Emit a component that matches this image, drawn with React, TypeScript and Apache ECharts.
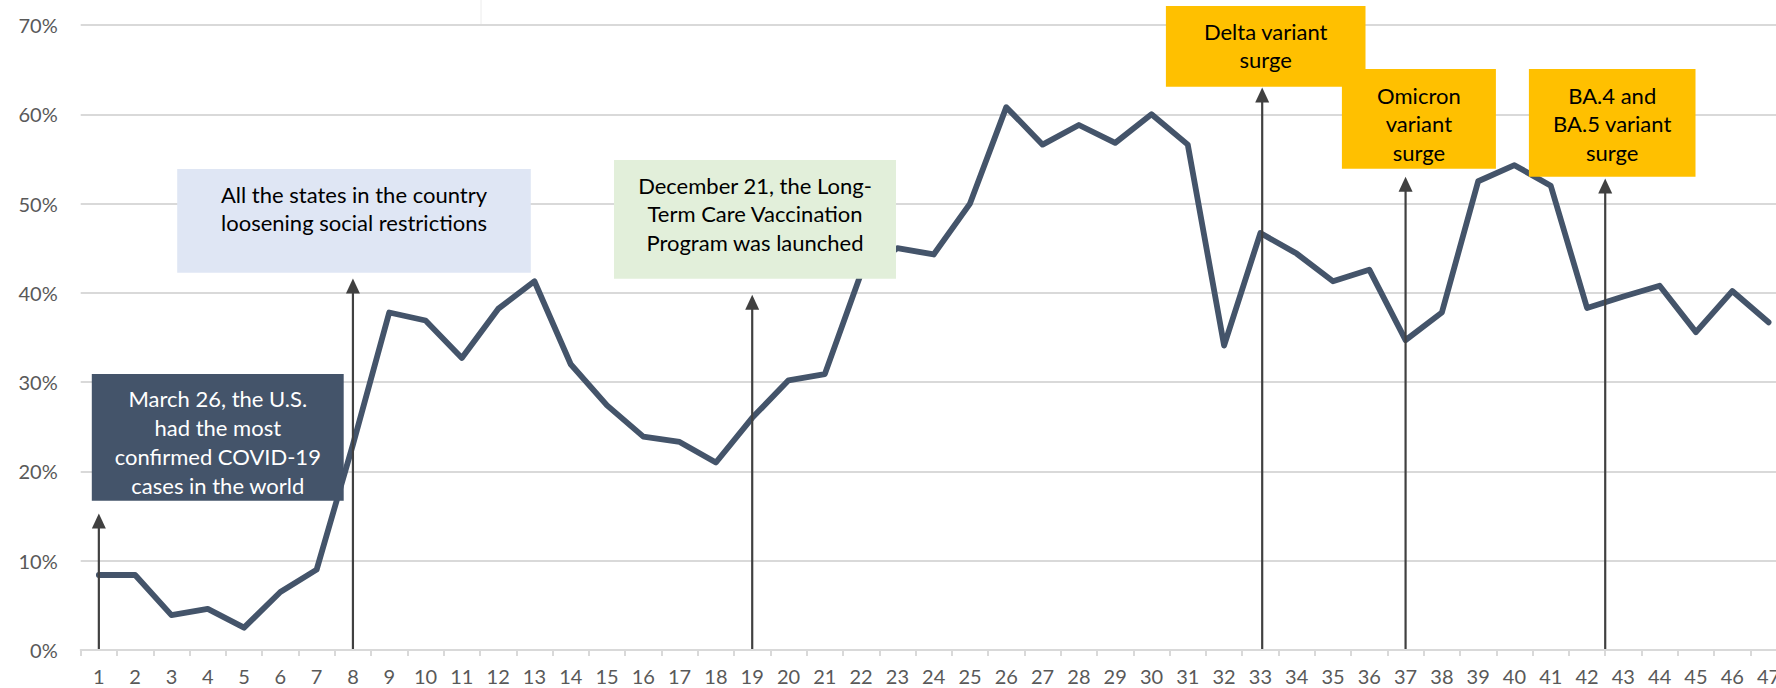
import React, { useEffect, useRef } from "react";
import * as echarts from "echarts";

const categories = [
  "1", "2", "3", "4", "5", "6", "7", "8", "9", "10",
  "11", "12", "13", "14", "15", "16", "17", "18", "19", "20",
  "21", "22", "23", "24", "25", "26", "27", "28", "29", "30",
  "31", "32", "33", "34", "35", "36", "37", "38", "39", "40",
  "41", "42", "43", "44", "45", "46", "47",
];

const shareValues = [
  8.4, 8.4, 3.9, 4.6, 2.5, 6.5, 9.0, 23.0, 37.8, 36.9,
  32.7, 38.2, 41.3, 32.0, 27.4, 23.9, 23.3, 21.0, 26.0, 30.2,
  30.9, 42.2, 45.0, 44.3, 50.0, 60.8, 56.6, 58.8, 56.8, 60.0,
  56.6, 34.1, 46.7, 44.4, 41.3, 42.6, 34.7, 37.8, 52.5, 54.3,
  52.0, 38.3, 39.6, 40.8, 35.6, 40.2, 36.7,
];

const yTicks = [0, 10, 20, 30, 40, 50, 60, 70];

// annotation arrows: position on the category scale and height of the tip (%)
const arrowX = [1, 8, 19, 33.05, 37, 42.5];
const arrowTop = [15.3, 41.6, 39.8, 63.0, 53.0, 52.8];

const FONT = "Lato";

export default function App() {
  const ref = useRef<HTMLDivElement>(null);

  useEffect(() => {
    if (!ref.current) return;
    const chart = echarts.init(ref.current, undefined, { renderer: "svg" });

    const box = (
      x: number, y: number, w: number, h: number, fill: string,
      text: string, cx: number, cy: number, lh: number, color: string
    ) => [
      { type: "rect", shape: { x, y, width: w, height: h }, style: { fill }, z: 100 },
      {
        type: "text",
        x: cx,
        y: cy,
        z: 101,
        style: {
          text,
          fill: color,
          fontFamily: FONT,
          fontSize: 22,
          lineHeight: lh,
          align: "center",
          verticalAlign: "middle",
        },
      },
    ];

    const option: any = {
      animation: false,
      backgroundColor: "#ffffff",
      grid: { left: 80.7, top: 25, width: 1706, height: 625, containLabel: false },
      xAxis: [
        {
          type: "category",
          data: categories,
          boundaryGap: true,
          axisLine: { show: true, lineStyle: { color: "#d9d9d9", width: 2 } },
          axisTick: { show: true, length: 6, lineStyle: { color: "#d9d9d9", width: 2 } },
          axisLabel: {
            interval: 0,
            margin: 16,
            color: "#595959",
            fontFamily: FONT,
            fontSize: 20,
          },
          splitLine: { show: false },
        },
        {
          type: "value",
          min: 0.5,
          max: 47.5,
          show: false,
        },
      ],
      yAxis: {
        type: "value",
        min: yTicks[0],
        max: yTicks[yTicks.length - 1],
        interval: 10,
        axisLine: { show: false },
        axisTick: { show: false },
        axisLabel: {
          formatter: "{value}%",
          margin: 23,
          color: "#595959",
          fontFamily: FONT,
          fontSize: 20,
        },
        splitLine: { show: true, lineStyle: { color: "#d9d9d9", width: 2 } },
      },
      series: [
        {
          type: "line",
          data: shareValues,
          xAxisIndex: 0,
          yAxisIndex: 0,
          symbol: "none",
          lineStyle: { color: "#44546a", width: 5.8, cap: "round", join: "round" },
          z: 2,
        },
        {
          type: "custom",
          xAxisIndex: 1,
          yAxisIndex: 0,
          z: 5,
          data: arrowX.map((x, i) => [x, arrowTop[i]]),
          encode: { x: 0, y: 1 },
          renderItem: (params: any, api: any) => {
            const x = api.value(0);
            const top = api.value(1);
            const b = api.coord([x, 0]);
            const t = api.coord([x, top]);
            const hw = 7;
            const hl = 15;
            return {
              type: "group",
              children: [
                {
                  type: "line",
                  shape: { x1: b[0], y1: b[1] - 1, x2: t[0], y2: t[1] + hl - 1 },
                  style: { stroke: "#404040", lineWidth: 2.2 },
                },
                {
                  type: "polygon",
                  shape: { points: [[t[0], t[1]], [t[0] - hw, t[1] + hl], [t[0] + hw, t[1] + hl]] },
                  style: { fill: "#404040" },
                },
              ],
            };
          },
        },
      ],
      graphic: [
        {
          type: "line",
          shape: { x1: 481, y1: 0, x2: 481, y2: 24 },
          style: { stroke: "#ececec", lineWidth: 1 },
          z: 1,
        },
        ...box(91.8, 374, 251.9, 126.7, "#44546a",
          "March 26, the U.S.\nhad the most\nconfirmed COVID-19\ncases in the world",
          217.8, 442, 29, "#ffffff"),
        ...box(177.2, 169, 353.6, 103.7, "#dfe6f4",
          "All the states in the country\nloosening social restrictions",
          354, 208.2, 28.3, "#000000"),
        ...box(614, 160, 282, 118.7, "#e2efda",
          "December 21, the Long-\nTerm Care Vaccination\nProgram was launched",
          755, 213.7, 28.7, "#000000"),
        ...box(1341.9, 69, 154, 99.7, "#ffc000",
          "Omicron\nvariant\nsurge",
          1418.9, 123.8, 28.8, "#000000"),
        ...box(1165.9, 6, 199.6, 80.7, "#ffc000",
          "Delta variant\nsurge",
          1265.7, 45.8, 28.3, "#000000"),
        ...box(1528.9, 69, 166.6, 107.7, "#ffc000",
          "BA.4 and\nBA.5 variant\nsurge",
          1612.2, 123.8, 28.8, "#000000"),
      ],
    };

    chart.setOption(option);
    return () => chart.dispose();
  }, []);

  return (
    <div
      style={{
        position: "absolute",
        left: 0,
        top: 0,
        width: 1776,
        height: 688,
        overflow: "hidden",
        background: "#ffffff",
      }}
    >
      <div ref={ref} style={{ width: 1800, height: 688 }} />
    </div>
  );
}
